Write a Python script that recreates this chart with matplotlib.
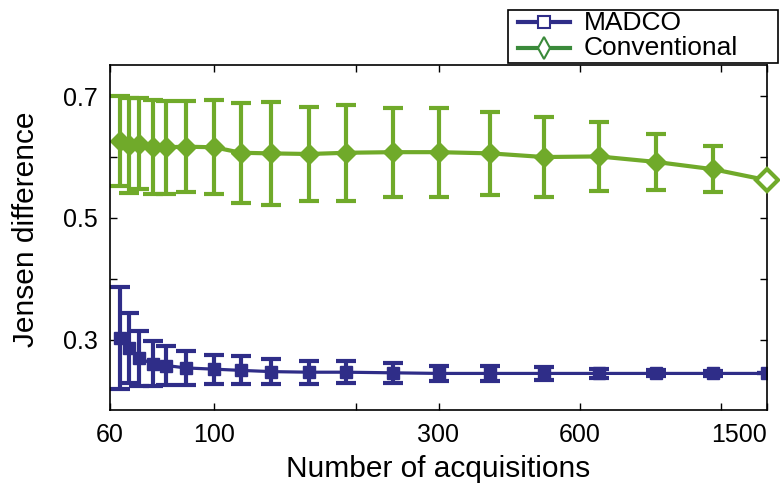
import matplotlib
matplotlib.use("Agg")
import matplotlib.pyplot as plt
from matplotlib.lines import Line2D
from matplotlib.patches import Rectangle
from matplotlib.ticker import FixedLocator, FixedFormatter, NullLocator

plt.rcParams['font.family'] = ['Liberation Sans', 'DejaVu Sans']

acquisitions = [63, 66, 69, 74, 79, 87, 100, 114, 132, 159, 191, 240, 300, 387, 503, 658, 870, 1152, 1500]

madco_mean = [0.303, 0.287, 0.270, 0.261, 0.258, 0.254, 0.252, 0.250, 0.248, 0.247, 0.247, 0.246,
              0.245, 0.245, 0.245, 0.245, 0.245, 0.245, 0.245]
madco_err = [0.083, 0.057, 0.045, 0.037, 0.032, 0.028, 0.024, 0.023, 0.020, 0.019, 0.018, 0.016,
             0.013, 0.012, 0.010, 0.008, 0.005, 0.004, 0.0]

conv_mean = [0.626, 0.619, 0.622, 0.616, 0.616, 0.617, 0.616, 0.607, 0.606, 0.605, 0.607, 0.608,
             0.608, 0.606, 0.600, 0.601, 0.592, 0.580, 0.562]
conv_err = [0.074, 0.078, 0.075, 0.077, 0.076, 0.075, 0.077, 0.082, 0.085, 0.077, 0.079, 0.073,
            0.073, 0.068, 0.065, 0.057, 0.046, 0.038, 0.0]

x_ticks = [60, 100, 200, 300, 600, 1200, 1500]
x_tick_labels = ['60', '100', '', '300', '600', '', '1500']
y_ticks = [0.3, 0.4, 0.5, 0.6, 0.7]
y_tick_labels = ['0.3', '', '0.5', '', '0.7']
series_names = ['MADCO', 'Conventional']

blue = '#2f2d88'
green = '#70aa2a'
legend_green = '#3a8a3a'

W, H = 780, 490
fig = plt.figure(figsize=(7.8, 4.9), dpi=100)
ax = fig.add_axes([110 / W, 1 - 410 / H, 657 / W, 345 / H])

# Conventional
ax.errorbar(acquisitions, conv_mean, yerr=conv_err, color=green, lw=3.0, elinewidth=3.0,
            capsize=7.5, capthick=3.0, marker='D', markersize=10, mfc=green, mec=green,
            markevery=list(range(len(acquisitions) - 1)), zorder=2)
ax.plot(acquisitions[-1:], conv_mean[-1:], ls='none', marker='D', markersize=11, mfc='white',
        mec=green, mew=3.0, zorder=3, clip_on=False)

# MADCO
ax.errorbar(acquisitions, madco_mean, yerr=madco_err, color=blue, lw=2.3, elinewidth=3.0,
            capsize=7.5, capthick=3.0, marker='s', markersize=8.5, mfc=blue, mec=blue, zorder=2)

ax.set_xscale('log')
ax.set_xlim(60, 1500)
ax.set_ylim(0.185, 0.751)
ax.xaxis.set_major_locator(FixedLocator(x_ticks))
ax.xaxis.set_major_formatter(FixedFormatter(x_tick_labels))
ax.xaxis.set_minor_locator(NullLocator())
ax.set_yticks(y_ticks)
ax.set_yticklabels(y_tick_labels)
ax.tick_params(direction='in', length=5, width=1, labelsize=18, top=True, right=True)
ax.tick_params(axis='x', pad=9)
ax.tick_params(axis='y', pad=9)
for lbl in ax.get_xticklabels():
    if lbl.get_text() == '1500':
        lbl.set_horizontalalignment('right')
for s in ax.spines.values():
    s.set_linewidth(1.2)

ax.set_xlabel('Number of acquisitions', fontsize=21.5, labelpad=6)
ax.set_ylabel('Jensen difference', fontsize=21.5)
ax.yaxis.set_label_coords((40 - 110) / 657, (410 - 229) / 345)

# Legend (drawn in figure pixel coordinates, above the axes frame)
fig.add_artist(Rectangle((508 / W, 1 - 63 / H), 270 / W, 53 / H, transform=fig.transFigure,
                         facecolor='white', edgecolor='black', lw=1.2, zorder=10))
rows = [(22.5, blue, 's', 9, 1.5), (48, legend_green, 'd', 11, 1.5)]
for (yc, col, mk, ms, mew), name in zip(rows, series_names):
    fig.add_artist(Line2D([518 / W, 570 / W], [1 - yc / H, 1 - yc / H], transform=fig.transFigure,
                          color=col, lw=3, zorder=11))
    fig.add_artist(Line2D([544 / W], [1 - yc / H], transform=fig.transFigure, ls='none',
                          marker=mk, markersize=ms, mfc='white', mec=col, mew=mew, zorder=12))
    fig.text(584 / W, 1 - yc / H, name, fontsize=19, va='center', ha='left', zorder=12)

fig.savefig('out.png', dpi=100)
